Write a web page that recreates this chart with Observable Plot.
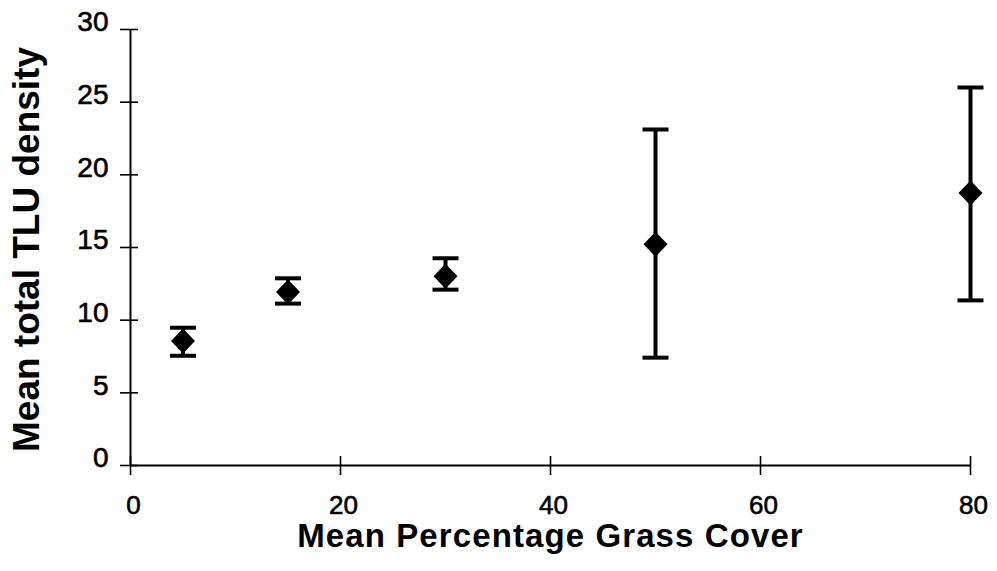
<!DOCTYPE html>
<html>
<head>
<meta charset="utf-8">
<script src="https://cdn.jsdelivr.net/npm/d3@7"></script>
<script src="https://cdn.jsdelivr.net/npm/@observablehq/plot@0.6"></script>
<style>
  html, body { margin: 0; padding: 0; background: #fff; }
  #chart svg { display: block; }
  .x-title text { letter-spacing: 1.1px; }
</style>
</head>
<body>
<div id="chart"></div>
<script>
// Mean TLU density against grass cover, with error bars
const grassCover = [5, 15, 30, 50, 80];
const meanTLU    = [8.56, 11.94, 13.02, 15.22, 18.75];
const lowerTLU   = [7.55, 11.14, 12.10, 7.42, 11.36];
const upperTLU   = [9.48, 12.88, 14.26, 23.12, 26.01];

const xTicks = [0, 20, 40, 60, 80];
const yTicks = [0, 5, 10, 15, 20, 25, 30];

const xTitle = "Mean Percentage Grass Cover";
const yTitle = "Mean total TLU density";

const rows = grassCover.map((g, i) => ({
  cover: g, mean: meanTLU[i], lo: lowerTLU[i], hi: upperTLU[i]
}));

// filled diamond marker and flat error-bar cap
const diamond = {
  draw(ctx) {
    ctx.moveTo(0, -12.5);
    ctx.lineTo(12, 0);
    ctx.lineTo(0, 12.5);
    ctx.lineTo(-12, 0);
    ctx.closePath();
  }
};
const cap = {
  draw(ctx) {
    ctx.rect(-13, -2, 26, 4);
  }
};

const chart = Plot.plot({
  width: 997,
  height: 571,
  marginLeft: 130,
  marginRight: 27,
  marginTop: 29,
  marginBottom: 106,
  style: { fontFamily: "'Liberation Sans', Arial, sans-serif", color: "#000", background: "#fff" },
  x: { domain: [0, 80] },
  y: { domain: [0, 30] },
  marks: [
    // axis lines
    Plot.ruleX([0], { stroke: "#000", strokeWidth: 2 }),
    Plot.ruleY([0], { stroke: "#000", strokeWidth: 2 }),
    // tick marks crossing the axes
    Plot.axisY(yTicks, { tickSize: 18, dx: 8, fill: "none", strokeWidth: 1.6, label: null }),
    Plot.axisX(xTicks, { tickSize: 19, dy: -9, fill: "none", strokeWidth: 1.6, label: null }),
    // tick labels
    Plot.axisY(yTicks, { tickSize: 0, tickPadding: 22, fontSize: 28, dy: -7, label: null,
      textStroke: "#000", textStrokeWidth: 0.6 }),
    Plot.axisX(xTicks, { tickSize: 0, tickPadding: 30, fontSize: 26, dx: 3, label: null,
      textStroke: "#000", textStrokeWidth: 0.6 }),
    // axis titles
    Plot.text([xTitle], {
      frameAnchor: "bottom", text: d => d, fontSize: 33, fontWeight: "bold",
      dy: 71, lineAnchor: "middle", textAnchor: "middle", className: "x-title"
    }),
    Plot.text([yTitle], {
      frameAnchor: "left", text: d => d, fontSize: 37, fontWeight: "bold",
      rotate: -90, dx: -103, dy: 2, lineAnchor: "middle", textAnchor: "middle"
    }),
    // error bars
    Plot.ruleX(rows, { x: "cover", y1: "lo", y2: "hi", stroke: "#000", strokeWidth: 4 }),
    Plot.dot(rows, { x: "cover", y: "hi", symbol: cap, r: 10, fill: "#000", stroke: null }),
    Plot.dot(rows, { x: "cover", y: "lo", symbol: cap, r: 10, fill: "#000", stroke: null }),
    // means
    Plot.dot(rows, { x: "cover", y: "mean", symbol: diamond, r: 10, fill: "#000", stroke: null })
  ]
});

document.getElementById("chart").appendChild(chart);
</script>
</body>
</html>
